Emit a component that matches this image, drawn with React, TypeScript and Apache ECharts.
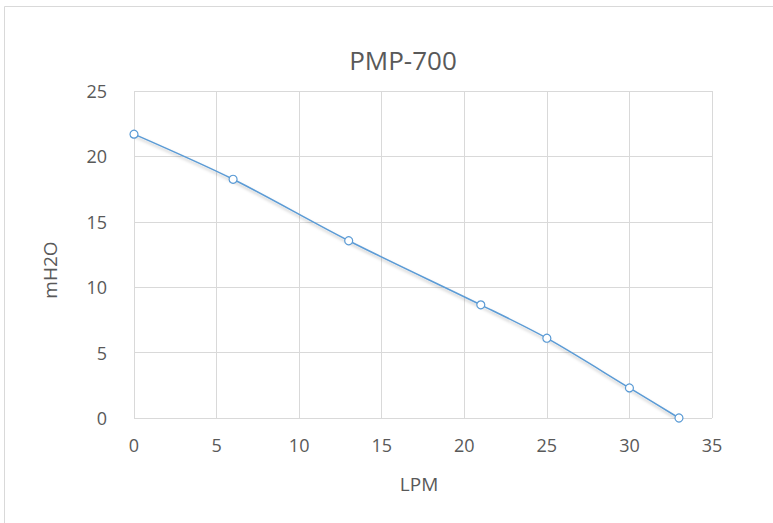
import React, { useEffect, useRef } from "react";
import * as echarts from "echarts";

const titleText = "PMP-700";
const xName = "LPM";
const yName = "mH2O";
const flowLPM = [0, 6, 13, 21, 25, 30, 33];
const headM = [21.7, 18.25, 13.55, 8.65, 6.1, 2.3, 0];
const xTicks = { min: 0, max: 35, interval: 5 };
const yTicks = { min: 0, max: 25, interval: 5 };

const FONT = "'Open Sans', 'Liberation Sans', sans-serif";
const TXT = "#595959";
const GRID = "#d9d9d9";
const BLUE = "#5b9bd5";

export default function App() {
  const ref = useRef<HTMLDivElement>(null);
  useEffect(() => {
    if (!ref.current) return;
    const chart = echarts.init(ref.current, null, { renderer: "svg" });
    const data = flowLPM.map((x, i) => [x, headM[i]]);
    chart.setOption({
      animation: false,
      backgroundColor: "#ffffff",
      textStyle: { fontFamily: FONT },
      grid: { left: 134, top: 91, right: 61, bottom: 105, containLabel: false },
      xAxis: {
        type: "value",
        min: xTicks.min,
        max: xTicks.max,
        interval: xTicks.interval,
        axisLine: { show: false },
        axisTick: { show: false },
        splitLine: { show: true, lineStyle: { color: GRID, width: 1 } },
        axisLabel: { color: TXT, fontSize: 18, fontFamily: FONT, margin: 18 },
      },
      yAxis: {
        type: "value",
        min: yTicks.min,
        max: yTicks.max,
        interval: yTicks.interval,
        axisLine: { show: false },
        axisTick: { show: false },
        splitLine: { show: true, lineStyle: { color: GRID, width: 1 } },
        axisLabel: { color: TXT, fontSize: 18, fontFamily: FONT, margin: 27 },
      },
      graphic: [
        {
          type: "rect",
          silent: true,
          shape: { x: 4.5, y: 6.5, width: 900, height: 700 },
          style: { fill: "none", stroke: GRID, lineWidth: 1 },
        },
        {
          type: "text",
          x: 403,
          y: 60,
          style: {
            text: titleText,
            fill: TXT,
            font: `26px ${FONT}`,
            align: "center",
            verticalAlign: "middle",
          },
        },
        {
          type: "text",
          x: 419,
          y: 484,
          style: {
            text: xName,
            fill: TXT,
            font: `19px ${FONT}`,
            align: "center",
            verticalAlign: "middle",
          },
        },
        {
          type: "text",
          x: 50,
          y: 270,
          rotation: Math.PI / 2,
          style: {
            text: yName,
            fill: TXT,
            font: `19px ${FONT}`,
            align: "center",
            verticalAlign: "middle",
          },
        },
      ],
      series: [
        {
          type: "line",
          data,
          smooth: 0.3,
          symbol: "circle",
          symbolSize: 8,
          showSymbol: true,
          lineStyle: {
            color: BLUE,
            width: 1.5,
            shadowColor: "rgba(0,0,0,0.25)",
            shadowBlur: 3,
            shadowOffsetY: 2,
          },
          itemStyle: { color: "#ffffff", borderColor: BLUE, borderWidth: 1.2 },
        },
      ],
    });
    return () => chart.dispose();
  }, []);
  return (
    <div
      ref={ref}
      style={{ position: "absolute", left: 0, top: 0, width: 773, height: 523 }}
    />
  );
}
